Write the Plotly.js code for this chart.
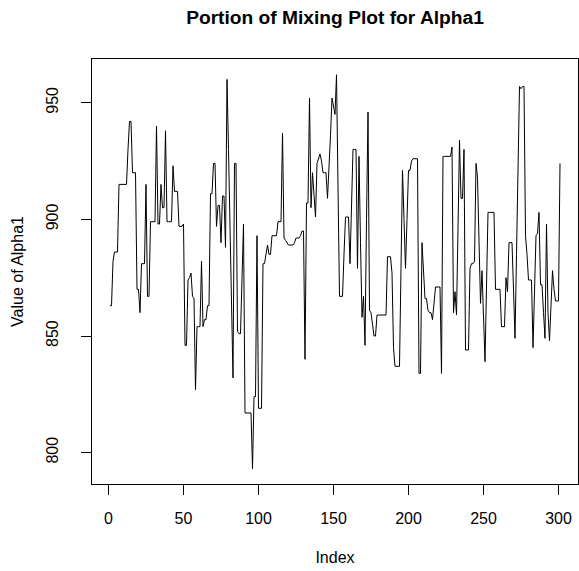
<!DOCTYPE html>
<html>
<head>
<meta charset="utf-8">
<script src="https://cdn.plot.ly/plotly-3.0.1.min.js"></script>
<style>
  html, body { margin: 0; padding: 0; background: #ffffff; }
  #chart { width: 579px; height: 571px; }
</style>
</head>
<body>
<div id="chart"></div>
<script>
const alpha1Part1 = [
  863,863,882,886,886,886,915,915,915,915,
  915,915,930,942,942,920,920,920,870,870,
  860,881,881,881,915,867,867,899,899,899,
  899,940,898,898,915,905,905,938,899,899,
  899,899,923,912,912,912,897,897,897,898,
  846,846,874,875,877,867,866,827,854,854,
  854,882,854,857,857,863,863,911,911,924,
  924,897,906,906,890,910,910,888,960,930,
  895,862,832,924,924,852,851,851,875,898,
  817,817,817,817,817,793,824,824,893,819
];
const alpha1Part2 = [
  819,819,881,881,885,889,885,885,893,893,
  893,893,899,899,899,937,892,891,890,889,
  889,889,889,890,892,892,892,893,895,895,
  840,907,907,952,905,920,912,901,924,926,
  928,925,920,920,920,909,920,936,952,948,
  945,962,915,867,867,867,885,901,901,901,
  881,905,930,930,930,879,927,890,858,867,
  846,900,946,861,860,855,850,850,859,859,
  859,859,859,859,859,884,884,884,877,845,
  837,837,837,837,879,921,900,879,900,921
];
const alpha1Part3 = [
  921,925,926,926,926,926,834,834,890,878,
  866,866,861,860,860,857,864,871,871,871,
  871,834,927,927,927,927,927,927,931,860,
  869,859,896,934,909,909,930,844,844,844,
  879,881,881,882,924,918,891,864,878,858,
  839,871,903,903,903,903,903,870,870,870,
  870,854,854,854,875,869,890,890,890,870,
  849,885,921,957,956,957,957,893,885,874,
  874,874,845,870,893,894,903,872,872,860,
  849,898,860,848,865,878,870,865,865,865,
  924
];
const xTicks = [0, 50, 100, 150, 200, 250, 300];
const yTicks = [800, 850, 900, 950];

const alpha1 = alpha1Part1.concat(alpha1Part2, alpha1Part3);
const index = alpha1.map((_, k) => k + 1);

const fontFamily = '"Liberation Sans", Arial, Helvetica, sans-serif';

const trace = {
  x: index,
  y: alpha1,
  type: 'scatter',
  mode: 'lines',
  line: { color: '#000000', width: 1 },
  hoverinfo: 'x+y'
};

const layout = {
  width: 579,
  height: 571,
  margin: { l: 92, r: 1, t: 59, b: 87 },
  paper_bgcolor: '#ffffff',
  plot_bgcolor: '#ffffff',
  showlegend: false,
  font: { family: fontFamily, size: 16, color: '#000000' },
  title: {
    text: '<b>Portion of Mixing Plot for Alpha1</b>',
    font: { family: fontFamily, size: 19.2, color: '#000000' },
    xref: 'paper', x: 0.5, xanchor: 'center',
    yref: 'container', y: 1 - 17.3 / 571, yanchor: 'middle'
  },
  xaxis: {
    title: { text: 'Index', font: { family: fontFamily, size: 16, color: '#000000' }, standoff: 25 },
    range: [-11, 313],
    tickmode: 'array', tickvals: xTicks, ticktext: xTicks.map(String),
    ticks: 'outside', ticklen: 10, tickwidth: 1, tickcolor: '#000000',
    tickfont: { family: fontFamily, size: 16, color: '#000000' },
    ticklabelstandoff: 10,
    showgrid: false, zeroline: false,
    showline: true, mirror: true, linecolor: '#000000', linewidth: 1,
    automargin: false
  },
  yaxis: {
    title: { text: 'Value of Alpha1', font: { family: fontFamily, size: 16, color: '#000000' }, standoff: 15 },
    range: [786.55, 968.75],
    tickmode: 'array', tickvals: yTicks, ticktext: yTicks.map(String),
    tickangle: -90,
    ticks: 'outside', ticklen: 10, tickwidth: 1, tickcolor: '#000000',
    tickfont: { family: fontFamily, size: 16, color: '#000000' },
    ticklabelstandoff: 17,
    showgrid: false, zeroline: false,
    showline: true, mirror: true, linecolor: '#000000', linewidth: 1,
    automargin: false
  }
};

Plotly.newPlot('chart', [trace], layout, { displayModeBar: false, staticPlot: true });
</script>
</body>
</html>
